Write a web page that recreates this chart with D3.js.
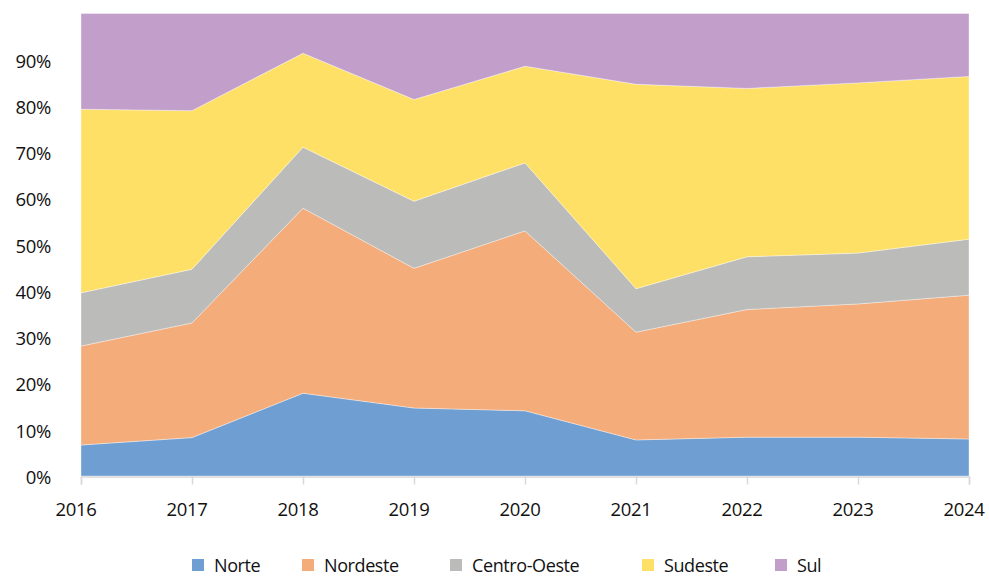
<!DOCTYPE html>
<html>
<head>
<meta charset="utf-8">
<script src="https://cdn.jsdelivr.net/npm/d3@7"></script>
<style>
  html, body { margin: 0; padding: 0; background: #fff; }
  svg { display: block; font-family: "Open Sans", "Noto Sans", sans-serif; }
</style>
</head>
<body>
<svg id="chart" width="989" height="578"></svg>
<script>
// Participação regional (%) por ano
const years = [2016, 2017, 2018, 2019, 2020, 2021, 2022, 2023, 2024];
const regions = ["Norte", "Nordeste", "Centro-Oeste", "Sudeste", "Sul"];
const norte       = [6.7, 8.3, 17.9, 14.7, 14.1, 7.8, 8.4, 8.4, 8.0];
const nordeste    = [21.4, 24.8, 40.0, 30.2, 38.9, 23.3, 27.6, 28.8, 31.1];
const centroOeste = [11.5, 11.6, 13.2, 14.5, 14.7, 9.4, 11.4, 11.0, 12.1];
const sudeste     = [39.7, 34.3, 20.3, 22.0, 20.9, 44.2, 36.4, 36.8, 35.2];
const sul         = [20.7, 21.0, 8.6, 18.6, 11.4, 15.3, 16.2, 15.0, 13.6];
const yTicks = [0, 10, 20, 30, 40, 50, 60, 70, 80, 90];
const colors = ["#6f9ed3", "#f4ac7a", "#bbbbb9", "#fee066", "#c29fca"];

const seriesByRegion = [norte, nordeste, centroOeste, sudeste, sul];
const rows = years.map((y, i) => {
  const r = { year: y };
  regions.forEach((name, k) => { r[name] = seriesByRegion[k][i]; });
  return r;
});

const svg = d3.select("#chart");
const margin = { left: 81, right: 20, top: 13.5, bottom: 102 };
const width = 969 - margin.left;
const height = 476 - margin.top;

const x = d3.scaleLinear().domain([2016, 2024]).range([margin.left, margin.left + width]);
const y = d3.scaleLinear().domain([0, 100]).range([margin.top + height, margin.top]);

const stack = d3.stack().keys(regions).offset(d3.stackOffsetExpand);
const layers = stack(rows);

const area = d3.area()
  .x(d => x(d.data.year))
  .y0(d => y(d[0] * 100))
  .y1(d => y(d[1] * 100));

svg.append("g").selectAll("path")
  .data(layers)
  .join("path")
  .attr("d", area)
  .attr("fill", (d, i) => colors[i])
  .attr("stroke", "#ffffff")
  .attr("stroke-opacity", 0.45)
  .attr("stroke-width", 0.8);

// X axis
const xAxis = d3.axisBottom(x)
  .tickValues(years)
  .tickFormat(d3.format("d"))
  .tickSize(8)
  .tickPadding(18);
const gx = svg.append("g")
  .attr("transform", `translate(0,${margin.top + height + 0.5})`)
  .call(xAxis);
gx.select(".domain").attr("stroke", "#d9d9d9").attr("stroke-width", 1.5);
gx.selectAll(".tick line").attr("stroke", "#d9d9d9").attr("stroke-width", 1.5);
gx.selectAll("text")
  .attr("font-size", 18.5)
  .attr("dx", -5.5)
  .attr("letter-spacing", -0.3)
  .attr("fill", "#111")
  .attr("font-family", "Open Sans, sans-serif");

// Y axis (labels only)
const yAxis = d3.axisLeft(y)
  .tickValues(yTicks)
  .tickFormat(d => d + "%")
  .tickSize(0)
  .tickPadding(0);
const gy = svg.append("g")
  .attr("transform", `translate(${margin.left - 30},0)`)
  .call(yAxis);
gy.select(".domain").remove();
gy.selectAll("text")
  .attr("font-size", 18.5)
  .attr("dy", "0.4em")
  .attr("letter-spacing", -0.3)
  .attr("fill", "#111")
  .attr("font-family", "Open Sans, sans-serif");

// Legend
const legendX = [192, 302, 450, 642, 775];
const legend = svg.append("g").selectAll("g")
  .data(regions)
  .join("g")
  .attr("transform", (d, i) => `translate(${legendX[i]},559)`);
legend.append("rect")
  .attr("width", 12).attr("height", 12)
  .attr("fill", (d, i) => colors[i]);
legend.append("text")
  .attr("x", 22).attr("y", 6)
  .attr("dy", "0.38em")
  .attr("font-size", 18)
  .attr("letter-spacing", -0.4)
  .attr("fill", "#111")
  .text(d => d);
</script>
</body>
</html>
